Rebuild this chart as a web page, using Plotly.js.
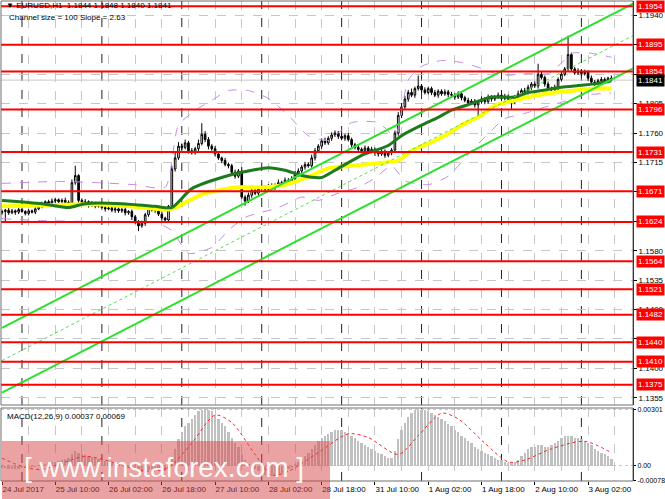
<!DOCTYPE html>
<html>
<head>
<meta charset="utf-8">
<script src="https://cdn.plot.ly/plotly-3.0.1.min.js"></script>
<style>
  html, body { margin: 0; padding: 0; background: #fff; }
  #chart { width: 665px; height: 499px; }
</style>
</head>
<body>
<div id="chart"></div>
<script>
// hourly EURUSD bars, index 0 = 24 Jul 18:00
var timeLabels = ['24 Jul 2017', '25 Jul 10:00', '26 Jul 02:00', '26 Jul 18:00', '27 Jul 10:00', '28 Jul 02:00',
                  '28 Jul 18:00', '31 Jul 10:00', '1 Aug 02:00', '1 Aug 18:00', '2 Aug 10:00', '3 Aug 02:00'];
var labelBars = [0, 16, 32, 48, 64, 80, 96, 112, 128, 144, 160, 176];
var daySeparators = [6, 30, 54, 78, 102, 126, 150, 174];

var firstOpen = 1.1638;
var closes = [
  1.1640, 1.1642, 1.1638, 1.1641, 1.1639, 1.1643, 1.1640, 1.1637, 1.1641, 1.1639, 1.1644,
  1.1648, 1.1652, 1.1655, 1.1653, 1.1656, 1.1658, 1.1655, 1.1657, 1.1654, 1.1652,
  1.1684, 1.1695, 1.1657, 1.1652, 1.1655, 1.1650, 1.1653, 1.1648, 1.1650,
  1.1646, 1.1644, 1.1645, 1.1642, 1.1644, 1.1641, 1.1643,
  1.1638, 1.1640, 1.1632, 1.1625, 1.1618, 1.1622, 1.1635, 1.1645, 1.1642, 1.1646,
  1.1636, 1.1630, 1.1627, 1.1648, 1.1705, 1.1722, 1.1740, 1.1738, 1.1745,
  1.1733, 1.1730, 1.1736, 1.1744, 1.1758, 1.1750, 1.1740, 1.1736,
  1.1728, 1.1722, 1.1718, 1.1712, 1.1710, 1.1700, 1.1694, 1.1702, 1.1662, 1.1656,
  1.1665, 1.1672, 1.1668, 1.1675, 1.1677, 1.1674, 1.1679, 1.1676,
  1.1680, 1.1684, 1.1682, 1.1688, 1.1685, 1.1690, 1.1697, 1.1702,
  1.1708, 1.1712, 1.1710, 1.1722, 1.1733, 1.1740, 1.1748, 1.1745, 1.1752,
  1.1757, 1.1760, 1.1755, 1.1752, 1.1756, 1.1750,
  1.1742, 1.1738, 1.1735, 1.1733, 1.1737, 1.1732, 1.1735, 1.1730,
  1.1728, 1.1732, 1.1726, 1.1730, 1.1734, 1.1760, 1.1787, 1.1800, 1.1812,
  1.1822, 1.1818, 1.1828, 1.1832, 1.1826, 1.1822, 1.1828,
  1.1822, 1.1818, 1.1824, 1.1820, 1.1823, 1.1819, 1.1818, 1.1815, 1.1820, 1.1814,
  1.1810, 1.1806, 1.1809, 1.1803, 1.1808, 1.1812, 1.1808, 1.1815, 1.1812,
  1.1815, 1.1818, 1.1813, 1.1816, 1.1812, 1.1808, 1.1814,
  1.1820, 1.1825, 1.1822, 1.1830, 1.1835, 1.1832, 1.1850, 1.1845,
  1.1835, 1.1828, 1.1826, 1.1830, 1.1842, 1.1850, 1.1858, 1.1880, 1.1858,
  1.1852, 1.1855, 1.1851, 1.1853, 1.1844, 1.1838, 1.1836,
  1.1840, 1.1842, 1.1839, 1.1844, 1.1841
];
// wick lengths in pips above / below the body
var upWick = [
  3, 2, 4, 3, 2, 3, 4, 2, 3, 2,   3, 4, 3, 2, 3, 4, 3, 2, 3, 4,
  3, 5, 15, 2, 3, 4, 2, 3, 2, 3,  2, 3, 2, 4, 3, 2, 3, 4, 2, 3,
  3, 2, 4, 3, 5, 3, 2, 3, 4, 2,   2, 5, 8, 6, 4, 5, 3, 4, 3, 6,
  17, 5, 4, 3, 4, 3, 2, 4, 3, 3,  4, 3, 6, 3, 4, 3, 5, 3, 4, 3,
  3, 4, 3, 5, 3, 4, 3, 4, 5, 4,   3, 4, 3, 5, 4, 3, 4, 5, 3, 4,
  4, 3, 5, 3, 4, 3, 3, 4, 3, 4,   3, 4, 3, 3, 4, 3, 2, 3, 4, 5,
  6, 5, 4, 6, 3, 16, 3, 4, 3, 3,  4, 3, 3, 4, 3, 4, 3, 4, 3, 3,
  4, 3, 3, 3, 4, 3, 4, 3, 3, 4,   3, 4, 3, 3, 4, 5, 3, 4, 4, 3,
  4, 16, 4, 3, 4, 3, 4, 3, 4, 3,  29, 3, 3, 4, 3, 4, 3, 4, 3, 3,
  4, 3, 2, 4
];
var downWick = [
  3, 15, 3, 2, 4, 3, 2, 3, 3, 2,  3, 2, 3, 4, 2, 3, 3, 2, 4, 3,
  2, 3, 3, 4, 3, 2, 4, 3, 3, 2,   3, 4, 2, 3, 4, 3, 3, 4, 3, 5,
  4, 8, 3, 4, 3, 2, 4, 3, 4, 3,   3, 3, 4, 3, 4, 3, 4, 3, 3, 4,
  3, 4, 5, 3, 4, 3, 4, 3, 4, 3,   4, 3, 3, 7, 3, 4, 3, 4, 3, 4,
  3, 4, 3, 4, 3, 3, 4, 3, 3, 4,   3, 4, 3, 3, 4, 3, 4, 3, 3, 4,
  3, 4, 3, 4, 3, 4, 3, 3, 4, 3,   4, 3, 5, 4, 3, 4, 3, 4, 3, 4,
  4, 3, 4, 3, 4, 3, 4, 3, 3, 4,   3, 4, 3, 3, 4, 3, 4, 3, 4, 3,
  4, 3, 4, 19, 3, 4, 3, 4, 3, 3,  4, 3, 3, 11, 4, 3, 4, 3, 3, 4,
  3, 4, 3, 4, 3, 4, 3, 4, 3, 3,   3, 4, 3, 3, 4, 3, 4, 3, 4, 3,
  3, 4, 3, 1
];

var levels = [1.1954, 1.1895, 1.1854, 1.1796, 1.1731, 1.1671, 1.1624, 1.1564, 1.1521, 1.1482, 1.1440, 1.1410, 1.1375];
var bid = 1.1841;
var priceTicks = [1.1355, 1.1400, 1.1445, 1.1490, 1.1535, 1.1580, 1.1625, 1.1670, 1.1715, 1.1760, 1.1805, 1.1850, 1.1895, 1.1940];
// labels that sit fully under a level tag are not shown
var priceTickText = ['1.1355', '1.1400', '1.1445', '1.1490', '1.1535', '1.1580', '', '', '1.1715', '1.1760', '1.1805', '', '', '1.1940'];

var greenMaBars = [0, 12, 20, 25, 36, 46, 51, 57, 68, 75, 80, 85, 90, 96, 101, 108, 116, 120, 126, 131, 135, 141, 147, 154, 158, 162, 168, 174, 179, 183];
var greenMa = [1.1657, 1.1652, 1.1646, 1.1652, 1.1652, 1.1648, 1.1646, 1.1675, 1.1695, 1.1703, 1.1707, 1.1703, 1.1695, 1.1692, 1.1706,
               1.1726, 1.1741, 1.1756, 1.1772, 1.1784, 1.1795, 1.1805, 1.1815, 1.1815, 1.1822, 1.1825, 1.1830, 1.1833, 1.1836, 1.1840];
var yellowMaBars = [0, 12, 24, 36, 50, 52, 61, 71, 79, 85, 91, 98, 105, 113, 119, 123, 129, 134, 138, 144, 148, 154, 160, 166, 172, 178, 183];
var yellowMa = [1.1648, 1.1649, 1.1651, 1.1649, 1.1643, 1.1646, 1.1668, 1.1677, 1.1677, 1.1681, 1.1691, 1.1706, 1.1710, 1.1714,
                1.1718, 1.1733, 1.1746, 1.1759, 1.1772, 1.1787, 1.1802, 1.1810, 1.1817, 1.1822, 1.1825, 1.1828, 1.1828];
var bandUpperBars = [0, 17, 29, 40, 49, 53, 59, 63, 68, 74, 80, 86, 92, 98, 105, 113, 118, 122, 126, 132, 138, 144, 150, 157, 164, 168, 171, 177, 183];
var bandUpper = [1.1683, 1.1686, 1.1684, 1.1681, 1.1677, 1.1772, 1.1798, 1.1810, 1.1825, 1.1825, 1.1813, 1.1787, 1.1756, 1.1749,
                 1.1776, 1.1776, 1.1756, 1.1841, 1.1862, 1.1871, 1.1868, 1.1859, 1.1848, 1.1851, 1.1851, 1.1867, 1.1882, 1.1882, 1.1876];
var bandLowerBars = [0, 12, 24, 36, 46, 51, 56, 63, 68, 73, 83, 90, 95, 101, 107, 112, 117, 121, 128, 134, 141, 147, 151, 157, 162, 168, 175, 183];
var bandLower = [1.1629, 1.1626, 1.1625, 1.1625, 1.1623, 1.1611, 1.1576, 1.1585, 1.1611, 1.1631, 1.1646, 1.1662, 1.1657, 1.1668,
                 1.1677, 1.1691, 1.1710, 1.1687, 1.1681, 1.1694, 1.1733, 1.1764, 1.1782, 1.1790, 1.1798, 1.1807, 1.1818, 1.1821];

var channelBars = [0, 189.5];
var channelUpper = [1.1462, 1.1958];
var channelMiddle = [1.1412, 1.1909];
var channelLower = [1.1363, 1.1859];

var macd = [
  -0.00012, -0.00015, -0.00018, -0.0002, -0.0002, -0.00018, -0.00015, -0.00012, -0.0001, -0.00008, -0.00005, -0.00002,
  0.00002, 0.00008, 0.00012, 0.00018, 0.00022, 0.00025, 0.0003, 0.00035, 0.0004, 0.0006, 0.0008, 0.0007, 0.0006, 0.00055,
  0.0005, 0.00045, 0.0004, 0.00035, 0.0003, 0.00025, 0.0002, 0.00015, 0.0001, 0.00005, 0, -0.00005, -0.0001, -0.00015,
  -0.0002, -0.0003, -0.00035, -0.0003, -0.00025, -0.0002, -0.0002, -0.00025, -0.0003, -0.0003, -0.0002,
  0.0004, 0.0009, 0.0014, 0.0018, 0.0021, 0.0023, 0.0025, 0.0027, 0.0029, 0.0030, 0.00301, 0.0030, 0.0029, 0.0027,
  0.0025, 0.0023, 0.0021, 0.0018, 0.0015, 0.0012, 0.001, 0.0006, 0.0003, 0.0001, -0.0001, -0.0002, -0.0003, -0.0004,
  -0.0005, -0.00055, -0.00057, -0.00055, -0.0005, -0.0004, -0.0003, -0.0002, -0.0001,
  0.0001, 0.0002, 0.0003, 0.0005, 0.0007, 0.0009, 0.0011, 0.0013, 0.0015, 0.0016, 0.0017, 0.0018, 0.0019, 0.0019,
  0.0019, 0.0018, 0.0017, 0.0016, 0.0015, 0.0013, 0.0012, 0.0011, 0.001, 0.0009, 0.0008, 0.0007, 0.0006, 0.0005,
  0.0004, 0.0004,
  0.0008, 0.0014, 0.0019, 0.0023, 0.0026, 0.0028, 0.003, 0.00301, 0.003, 0.003, 0.0029, 0.0028, 0.0027, 0.0026,
  0.0025, 0.0024, 0.0022, 0.0021, 0.0019, 0.0018, 0.0016, 0.0015, 0.0013, 0.0012, 0.001, 0.0009, 0.0008, 0.0007,
  0.0006, 0.0005, 0.0004, 0.0003, 0.0003, 0.0002, 0.00015, 0.00015,
  0.0002, 0.0003, 0.0005, 0.0007, 0.0009, 0.001, 0.001, 0.0011, 0.0011, 0.001, 0.001, 0.0011, 0.0012, 0.0013,
  0.0015, 0.0016, 0.0016, 0.0016, 0.0015, 0.0015, 0.0014, 0.0013, 0.0012, 0.0011, 0.0009, 0.0008, 0.0007, 0.0006,
  0.0005, 0.00037
];
var signalBars = [0, 7, 12, 19, 25, 31, 38, 44, 50, 57, 64, 69, 76, 81, 86, 95, 104, 110, 119, 125, 132, 137, 145, 152, 157, 165, 175, 183];
var signal = [0.0004, -0.0001, -0.0002, 0.0002, 0.0005, 0.0003, -0.0001, -0.0003, -0.0001, 0.0012, 0.0027, 0.0023, 0.0006, -0.0005,
              -0.0003, 0.0007, 0.0017, 0.0015, 0.0006, 0.0016, 0.0028, 0.0025, 0.0012, 0.0002, 0.0003, 0.0009, 0.0013, 0.00069];
var macdTicks = [0.00301, 0, -0.00078];
var macdTickText = ['0.00301', '0.00', '-0.00078'];

var PIP = 0.0001;
var bars = closes.map(function(c, i) { return i; });
var opens = closes.map(function(c, i) { return i === 0 ? firstOpen : closes[i - 1]; });
var highs = closes.map(function(c, i) { return +(Math.max(opens[i], c) + upWick[i] * PIP).toFixed(4); });
var lows = closes.map(function(c, i) { return +(Math.min(opens[i], c) - downWick[i] * PIP).toFixed(4); });

// pixel helpers for text placed in paper space (plot area 1..633 x 1..481)
function px(x) { return (x - 1) / 632; }
function py(y) { return (481 - y) / 480; }

var FONT = 'Liberation Sans, Arial, sans-serif';
var GRID = '#c6c6c6';

var traces = [
  {
    type: 'candlestick', x: bars, open: opens, high: highs, low: lows, close: closes,
    increasing: { line: { color: '#000', width: 1 }, fillcolor: '#fff' },
    decreasing: { line: { color: '#000', width: 1 }, fillcolor: '#000' },
    whiskerwidth: 0, hoverinfo: 'none', xaxis: 'x', yaxis: 'y'
  },
  { type: 'scatter', mode: 'lines', x: bandUpperBars, y: bandUpper, line: { color: '#c28ae6', width: 1, dash: 'dash', shape: 'spline', smoothing: 0.6 }, hoverinfo: 'none' },
  { type: 'scatter', mode: 'lines', x: bandLowerBars, y: bandLower, line: { color: '#c28ae6', width: 1, dash: 'dash', shape: 'spline', smoothing: 0.6 }, hoverinfo: 'none' },
  { type: 'scatter', mode: 'lines', x: yellowMaBars, y: yellowMa, line: { color: '#ffff00', width: 4, shape: 'spline', smoothing: 0.6 }, hoverinfo: 'none' },
  { type: 'scatter', mode: 'lines', x: greenMaBars, y: greenMa, line: { color: '#1d7a1d', width: 3, shape: 'spline', smoothing: 0.6 }, hoverinfo: 'none' },
  { type: 'scatter', mode: 'lines', x: channelBars, y: channelUpper, line: { color: '#2ee02e', width: 2 }, hoverinfo: 'none' },
  { type: 'scatter', mode: 'lines', x: channelBars, y: channelMiddle, line: { color: '#4ee04e', width: 1, dash: 'dot' }, hoverinfo: 'none' },
  { type: 'scatter', mode: 'lines', x: channelBars, y: channelLower, line: { color: '#2ee02e', width: 2 }, hoverinfo: 'none' },
  { type: 'bar', x: bars, y: macd, marker: { color: '#c0c0c0', line: { width: 0 } }, width: 0.7, xaxis: 'x', yaxis: 'y2', hoverinfo: 'none' },
  { type: 'scatter', mode: 'lines', x: signalBars, y: signal, line: { color: '#ff2020', width: 1, dash: 'dot', shape: 'spline', smoothing: 0.8 }, xaxis: 'x', yaxis: 'y2', hoverinfo: 'none' }
];

var shapes = [];
daySeparators.forEach(function(d) {
  ['y domain', 'y2 domain'].forEach(function(ref) {
    shapes.push({ type: 'line', layer: 'below', xref: 'x', x0: d, x1: d, yref: ref, y0: 0, y1: 1,
                  line: { color: '#222', width: 1, dash: 'dash' } });
  });
});
shapes.push({ type: 'line', layer: 'below', xref: 'x domain', x0: 0, x1: 1, yref: 'y', y0: bid, y1: bid,
              line: { color: '#c8c8c8', width: 1 } });
levels.forEach(function(lv) {
  shapes.push({ type: 'line', layer: 'above', xref: 'x domain', x0: 0, x1: 1, yref: 'y', y0: lv, y1: lv,
                line: { color: '#ff0000', width: 2 } });
});
['y', 'y2'].forEach(function(ax) {
  shapes.push({ type: 'rect', layer: 'above', xref: 'x domain', x0: 0, x1: 1, yref: ax + ' domain', y0: 0, y1: 1,
                line: { color: '#6e6e6e', width: 1 }, fillcolor: 'rgba(0,0,0,0)' });
});
// watermark box
shapes.push({ type: 'rect', layer: 'above', xref: 'paper', yref: 'paper', x0: px(2), x1: px(330), y0: py(499), y1: py(441),
              line: { width: 0 }, fillcolor: 'rgba(214,70,70,0.5)' });

var annotations = [];
levels.forEach(function(lv) {
  annotations.push({ xref: 'paper', x: 1, xanchor: 'left', xshift: 3, yref: 'y', y: lv, yanchor: 'middle',
                     text: lv.toFixed(4), showarrow: false, bgcolor: '#ff0000', borderpad: 1,
                     font: { family: FONT, size: 8, color: '#fff' } });
});
annotations.push({ xref: 'paper', x: 1, xanchor: 'left', xshift: 3, yref: 'y', y: bid, yanchor: 'middle',
                   text: bid.toFixed(4), showarrow: false, bgcolor: '#000', borderpad: 1,
                   font: { family: FONT, size: 8, color: '#fff' } });
annotations.push({ xref: 'paper', yref: 'paper', x: px(4), y: py(6), xanchor: 'left', yanchor: 'middle', showarrow: false,
                   text: '▼ EURUSD,H1  1.1844 1.1848 1.1840 1.1841', font: { family: FONT, size: 8, color: '#000' } });
annotations.push({ xref: 'paper', yref: 'paper', x: px(7), y: py(18), xanchor: 'left', yanchor: 'middle', showarrow: false,
                   text: 'Channel size = 100 Slope = 2.63', font: { family: FONT, size: 8, color: '#000' } });
annotations.push({ xref: 'paper', yref: 'paper', x: px(5), y: py(416), xanchor: 'left', yanchor: 'middle', showarrow: false,
                   text: 'MACD(12,26,9) 0.00037 0.00069', font: { family: FONT, size: 8, color: '#000' } });
annotations.push({ xref: 'paper', yref: 'paper', x: px(164), y: py(467), xanchor: 'center', yanchor: 'middle', showarrow: false,
                   text: '[ www.instaforex.com ]', font: { family: FONT, size: 28, color: 'rgba(255,255,255,0.95)' } });

var layout = {
  width: 665, height: 499,
  margin: { l: 1, r: 32, t: 1, b: 18, pad: 0 },
  paper_bgcolor: '#fff', plot_bgcolor: '#fff',
  showlegend: false, dragmode: false,
  font: { family: FONT, size: 8, color: '#000' },
  xaxis: {
    anchor: 'y2', range: [-0.3, 189.5], rangeslider: { visible: false },
    tickmode: 'array', tickvals: labelBars, ticktext: timeLabels,
    ticks: 'outside', ticklen: 3, tickcolor: '#000', ticklabelposition: 'outside right',
    showgrid: true, gridcolor: GRID, griddash: 'dash', gridwidth: 1,
    minor: { tickmode: 'linear', tick0: 0, dtick: 8, showgrid: true, gridcolor: GRID, griddash: 'dash', ticks: '' },
    zeroline: false, showline: false, fixedrange: true
  },
  yaxis: {
    domain: [py(405), 1], anchor: 'x', side: 'right', range: [1.1344, 1.1962],
    tickmode: 'array', tickvals: priceTicks, ticktext: priceTickText,
    ticks: 'outside', ticklen: 3, tickcolor: '#000',
    showgrid: true, gridcolor: GRID, griddash: 'dash', zeroline: false,
    showline: true, linecolor: '#000', linewidth: 1, fixedrange: true
  },
  yaxis2: {
    domain: [0, py(408)], anchor: 'x', side: 'right', range: [-0.00082, 0.00308],
    tickmode: 'array', tickvals: macdTicks, ticktext: macdTickText,
    tickfont: { family: FONT, size: 7, color: '#000' },
    ticks: 'outside', ticklen: 2, tickcolor: '#000',
    showgrid: true, gridcolor: GRID, griddash: 'dot', zeroline: false,
    showline: true, linecolor: '#000', linewidth: 1, fixedrange: true
  },
  bargap: 0,
  shapes: shapes,
  annotations: annotations
};

Plotly.newPlot('chart', traces, layout, { staticPlot: true, displayModeBar: false });
</script>
</body>
</html>
